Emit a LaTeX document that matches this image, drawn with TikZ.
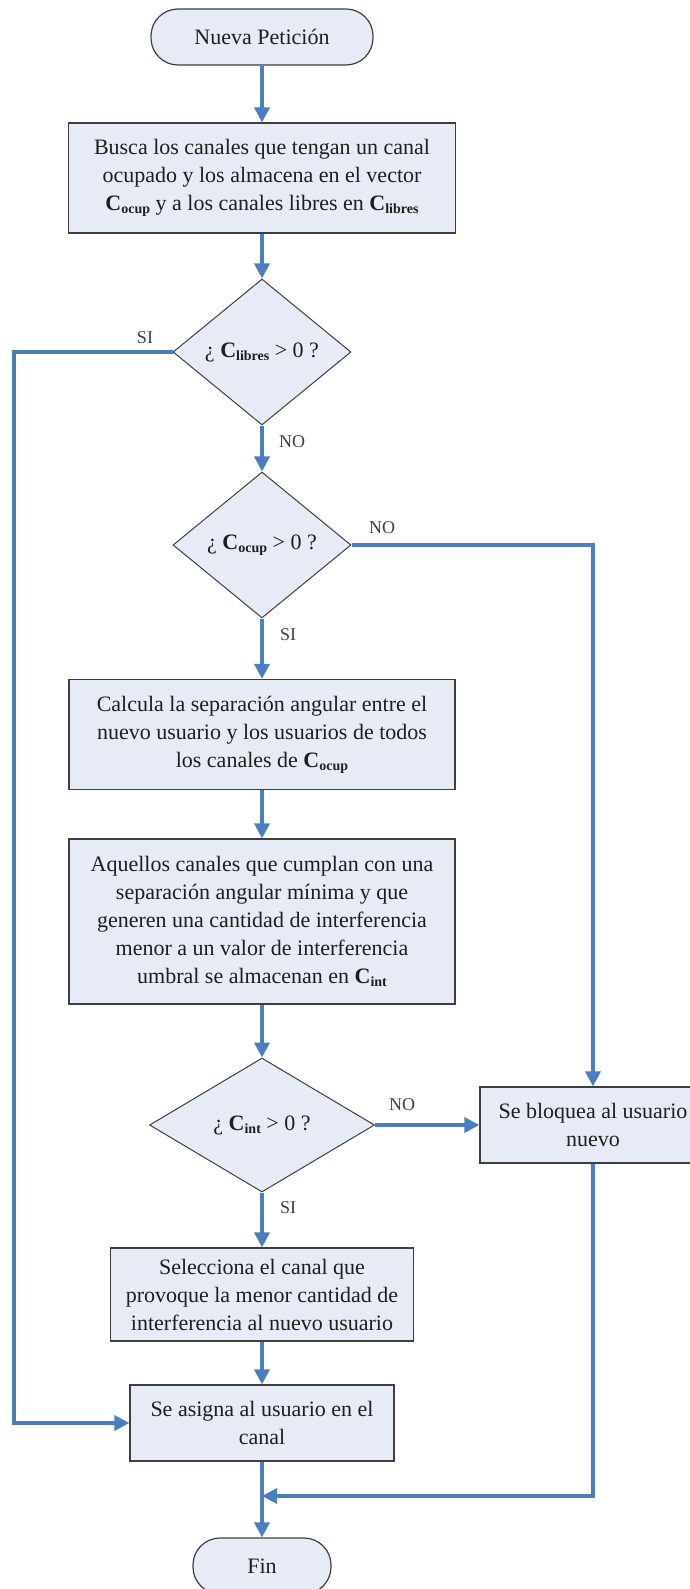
\documentclass[tikz,border=0pt]{standalone}
\usepackage{fontspec}
\setmainfont{Liberation Serif}
\usetikzlibrary{arrows.meta,shapes.geometric}

\definecolor{boxfill}{HTML}{E6EBF5}
\definecolor{boxline}{HTML}{3F3F3F}
\definecolor{flow}{HTML}{4A7EC0}
\definecolor{ink}{HTML}{1E1E1E}

% bold vector name with a bold, lowered subscript
\newcommand{\vecC}[1]{\textbf{C}\raisebox{-0.3ex}{\fontsize{14}{14}\selectfont\bfseries #1}}

\begin{document}
\begin{tikzpicture}[x=1pt,y=-1pt,
  proc/.style={draw=boxline, line width=1.2pt, fill=boxfill, inner sep=0pt,
    align=center, text=ink, font=\fontsize{22}{28}\selectfont},
  term/.style={proc, rounded corners=27pt},
  decision/.style={diamond, draw=boxline, line width=1pt, fill=boxfill,
    inner sep=0pt, text=ink, font=\fontsize{22}{28}\selectfont},
  flowline/.style={draw=flow, line width=3.4pt},
  flowarrow/.style={flowline, -{Triangle[length=15pt,width=15pt]}},
  lbl/.style={inner sep=0pt, text=ink!85, font=\fontsize{18}{18}\selectfont}
]
\useasboundingbox[fill=white] (0,0) rectangle (689,1589);

% process steps
\node[term, minimum width=222pt, minimum height=56pt] (start) at (262,37) {Nueva Petición};
\node[proc, minimum width=387pt, minimum height=110pt] (busca) at (262,178)
  {Busca los canales que tengan un canal\\ocupado y los almacena en el vector\\\vecC{ocup} y a los canales libres en \vecC{libres}};
\node[decision, minimum width=178pt, minimum height=146pt] (dlib) at (262,352) {¿ \vecC{libres} > 0 ?};
\node[decision, minimum width=178pt, minimum height=146pt] (docu) at (262,545) {¿ \vecC{ocup} > 0 ?};
\node[proc, minimum width=386pt, minimum height=110pt] (calc) at (262,734.5)
  {Calcula la separación angular entre el\\nuevo usuario y los usuarios de todos\\los canales de \vecC{ocup}};
\node[proc, minimum width=386pt, minimum height=165pt] (filtra) at (262,921.5)
  {Aquellos canales que cumplan con una\\separación angular mínima y que\\generen una cantidad de interferencia\\menor a un valor de interferencia\\umbral se almacenan en \vecC{int}};
\node[decision, minimum width=225pt, minimum height=134pt] (dint) at (262,1125) {¿ \vecC{int} > 0 ?};
\node[proc, minimum width=226pt, minimum height=76pt] (bloq) at (593,1125) {Se bloquea al usuario\\nuevo};
\node[proc, minimum width=303pt, minimum height=93pt] (selec) at (262,1294.5)
  {Selecciona el canal que\\provoque la menor cantidad de\\interferencia al nuevo usuario};
\node[proc, minimum width=264pt, minimum height=76pt] (asigna) at (262,1423) {Se asigna al usuario en el\\canal};
\node[term, minimum width=138pt, minimum height=56pt] (fin) at (262,1566) {Fin};

% rails and junction
\coordinate (lrail) at (14,0);
\coordinate (merge) at (262,1496);

% main column
\draw[flowarrow] (start) -- (busca);
\draw[flowarrow] (busca) -- (dlib);
\draw[flowarrow] (dlib) -- (docu);
\draw[flowarrow] (docu) -- (calc);
\draw[flowarrow] (calc) -- (filtra);
\draw[flowarrow] (filtra) -- (dint);
\draw[flowarrow] (dint) -- (selec);
\draw[flowarrow] (selec) -- (asigna);
\draw[flowarrow] (asigna) -- (fin);

% branches
\draw[flowarrow] (dlib.west) -- (dlib.west -| lrail) |- (asigna.west);
\draw[flowarrow] (docu.east) -| (bloq.north);
\draw[flowarrow] (dint.east) -- (bloq.west);
\draw[flowarrow] (bloq.south) |- (merge);

% branch labels
\node[lbl] (l1) at (145,338) {SI};
\node[lbl] (l2) at (292,442) {NO};
\node[lbl] (l3) at (382,528) {NO};
\node[lbl] (l4) at (288,635) {SI};
\node[lbl] (l5) at (402,1105) {NO};
\node[lbl] (l6) at (288,1208) {SI};
\end{tikzpicture}
\end{document}
